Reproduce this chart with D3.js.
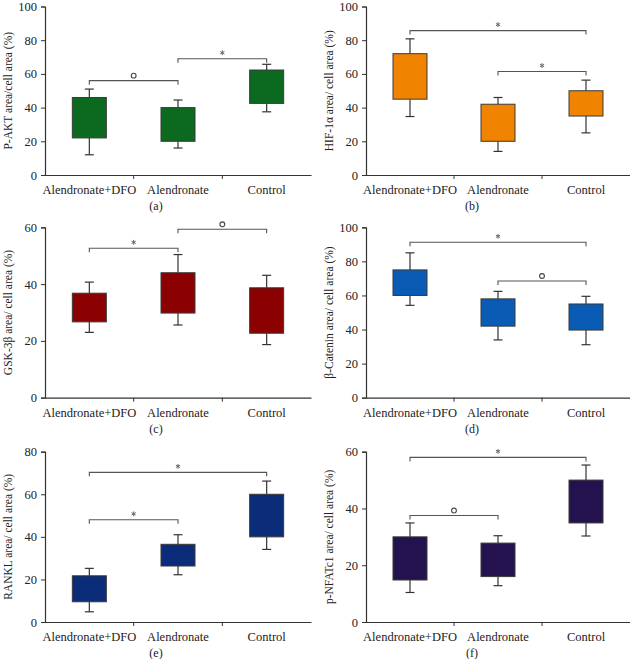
<!DOCTYPE html>
<html><head><meta charset="utf-8">
<script src="https://cdn.jsdelivr.net/npm/d3@7"></script>
<style>body{margin:0;background:#fff}svg{display:block}svg text{font-family:'Liberation Serif','Times New Roman',serif}</style>
</head><body>
<svg id="chart" width="630" height="659"></svg>
<script>
const categories = ["Alendronate+DFO", "Alendronate", "Control"];
const panelLabels = ["(a)", "(b)", "(c)", "(d)", "(e)", "(f)"];
const yTitles = ["P-AKT area/cell area (%)", "HIF-1\u03b1 area/ cell area (%)", "GSK-3\u03b2 area/ cell area (%)",
                 "\u03b2-Catenin area/ cell area (%)", "RANKL area/ cell area (%)", "p-NFATc1 area/ cell area (%)"];
const yMax = [100, 100, 60, 100, 80, 60];
const yTickValues = [[0,20,40,60,80,100],[0,20,40,60,80,100],[0,20,40,60],[0,20,40,60,80,100],[0,20,40,60,80],[0,20,40,60]];
const boxColors = ["#0b6a1f", "#f08300", "#8b0000", "#0a5bb3", "#0b2c78", "#24124e"];
const q1 = [[22, 20, 42.5], [45, 20, 35], [26.7, 29.8, 22.7], [60, 42, 39.7], [9.5, 26.3, 40], [14.8, 16, 34.9]];
const q3 = [[46, 40, 62.3], [72, 42, 50], [36.8, 44, 38.7], [75, 58, 55], [21.7, 36.5, 60], [30, 27.8, 50]];
const whiskerLow = [[12, 16, 37.5], [34.7, 14, 25], [23, 25.6, 18.7], [54.2, 33.9, 31.1], [4.8, 22.2, 34.1], [10.4, 12.8, 30.3]];
const whiskerHigh = [[51, 44.5, 65.7], [80.8, 46, 56.3], [40.7, 50.4, 43.1], [85, 62.4, 59.5], [25.2, 41, 66.2], [34.9, 30.4, 55.3]];
// brackets: [fromIndex, toIndex, height (data units), symbol]
const brackets = [
  [[0, 1, 56, "o"], [1, 2, 69, "*"]],
  [[0, 2, 85.7, "*"], [1, 2, 61.4, "*"]],
  [[0, 1, 52.6, "*"], [1, 2, 59.3, "o"]],
  [[0, 2, 91.2, "*"], [1, 2, 68.5, "o"]],
  [[0, 2, 70.3, "*"], [0, 1, 48, "*"]],
  [[0, 2, 58, "*"], [0, 1, 37.5, "o"]]
];

const svg = d3.select("#chart");
const serif = "'Liberation Serif','Times New Roman',serif";
const colX = [[45, 311], [366, 630]];
const rowY = [[6.5, 175], [227.3, 397.7], [451.7, 622]];
const panelCenter = [156, 472];

for (let p = 0; p < 6; p++) {
  const col = p % 2, row = Math.floor(p / 2);
  const [xl, xr] = colX[col];
  const [yt, yb] = rowY[row];
  const g = svg.append("g");
  const x = d3.scaleBand().domain(categories).range([xl, xr]).padding(0);
  const y = d3.scaleLinear().domain([0, yMax[p]]).range([yb, yt]);

  const ya = g.append("g").attr("transform", `translate(${xl},0)`)
    .call(d3.axisLeft(y).tickValues(yTickValues[p]).tickSize(4).tickPadding(4).tickFormat(d3.format("d")));
  ya.attr("font-family", null);
  ya.select(".domain").attr("stroke", "#333").attr("stroke-width", 1.2);
  ya.selectAll(".tick line").attr("stroke", "#333");
  ya.selectAll("text").style("font-family", serif).attr("font-size", 12.5).attr("fill", "#222");

  const xa = g.append("g").attr("transform", `translate(0,${yb})`)
    .call(d3.axisBottom(x).tickSize(0).tickPadding(10));
  xa.attr("font-family", null);
  xa.select(".domain").attr("stroke", "#333").attr("stroke-width", 1.2);
  xa.selectAll("text").style("font-family", serif).attr("font-size", 12.5).attr("fill", "#222");
  g.selectAll(".bt").data(categories.slice(1)).enter().append("line")
    .attr("x1", d => x(d)).attr("x2", d => x(d))
    .attr("y1", yb).attr("y2", yb + 4).attr("stroke", "#333");

  const bw = 34, cap = 9;
  categories.forEach((c, i) => {
    const cx = x(c) + x.bandwidth() / 2;
    g.append("line").attr("x1", cx).attr("x2", cx).attr("y1", y(q3[p][i])).attr("y2", y(whiskerHigh[p][i]))
      .attr("stroke", "#333").attr("stroke-width", 1.2);
    g.append("line").attr("x1", cx).attr("x2", cx).attr("y1", y(q1[p][i])).attr("y2", y(whiskerLow[p][i]))
      .attr("stroke", "#333").attr("stroke-width", 1.2);
    g.append("line").attr("x1", cx - cap / 2).attr("x2", cx + cap / 2).attr("y1", y(whiskerHigh[p][i])).attr("y2", y(whiskerHigh[p][i]))
      .attr("stroke", "#333").attr("stroke-width", 1.2);
    g.append("line").attr("x1", cx - cap / 2).attr("x2", cx + cap / 2).attr("y1", y(whiskerLow[p][i])).attr("y2", y(whiskerLow[p][i]))
      .attr("stroke", "#333").attr("stroke-width", 1.2);
    g.append("rect").attr("x", cx - bw / 2).attr("width", bw)
      .attr("y", y(q3[p][i])).attr("height", y(q1[p][i]) - y(q3[p][i]))
      .attr("fill", boxColors[p]).attr("stroke", "#3a3a3a").attr("stroke-width", 1);
  });

  brackets[p].forEach(([a, b, h, sym]) => {
    const xa1 = x(categories[a]) + x.bandwidth() / 2;
    const xb1 = x(categories[b]) + x.bandwidth() / 2;
    const yy = y(h);
    g.append("path").attr("d", `M${xa1},${yy + 4}V${yy}H${xb1}V${yy + 4}`)
      .attr("fill", "none").attr("stroke", "#555").attr("stroke-width", 1.1);
    if (sym === "o") {
      g.append("circle").attr("cx", (xa1 + xb1) / 2).attr("cy", yy - 5).attr("r", 2.4)
        .attr("fill", "none").attr("stroke", "#444").attr("stroke-width", 1.1);
    } else {
      g.append("path").attr("d", d3.symbol(d3.symbolAsterisk, 16)())
        .attr("transform", `translate(${(xa1 + xb1) / 2},${yy - 6})`)
        .attr("fill", "none").attr("stroke", "#666").attr("stroke-width", 1);
    }
  });

  const tx = col === 0 ? 12 : 333;
  g.append("text").attr("transform", `translate(${tx},${(yt + yb) / 2}) rotate(-90)`)
    .attr("text-anchor", "middle").style("font-family", serif).attr("font-size", 11.5).attr("fill", "#222")
    .text(yTitles[p]);

  g.append("text").attr("x", panelCenter[col]).attr("y", yb + 35).attr("text-anchor", "middle")
    .style("font-family", serif).attr("font-size", 12).attr("fill", "#222").text(panelLabels[p]);
}
</script>
</body></html>
